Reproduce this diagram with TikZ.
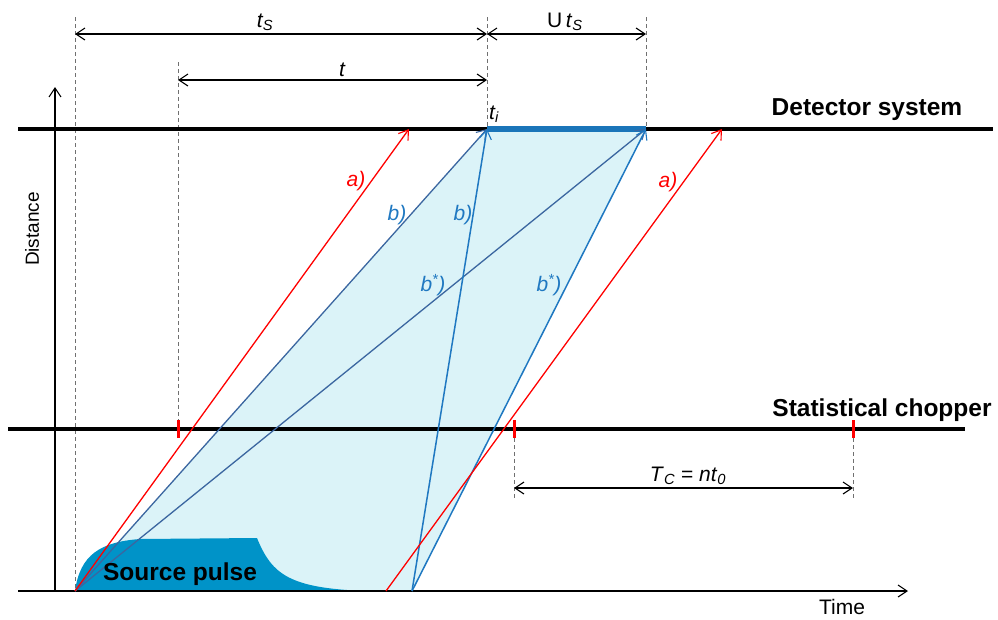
\documentclass[tikz,border=0pt]{standalone}
\usepackage{fontspec}
\setmainfont{Liberation Sans}
\usetikzlibrary{arrows.meta}
\definecolor{lightfill}{HTML}{DBF3F8}
\definecolor{pulseblue}{HTML}{0093C8}
\definecolor{darkline}{HTML}{3B66A0}
\definecolor{midline}{HTML}{1F78C1}
\definecolor{thickblue}{HTML}{1A75B9}
\definecolor{dashgray}{HTML}{707070}
\tikzset{
  tip/.tip={Straight Barb[length=9pt,width=12pt,line width=1.1pt]},
  guide/.style={draw=dashgray, line width=0.9pt, dash pattern=on 4pt off 3pt},
  dimarrow/.style={draw=black, line width=1.1pt, tip-tip},
  rail/.style={draw=black, line width=3.5pt},
  axisline/.style={draw=black, line width=1.3pt},
  redray/.style={draw=red, line width=1.3pt, -tip},
  darkray/.style={draw=darkline, line width=1.3pt, -tip},
  midray/.style={draw=midline, line width=1.5pt, -tip},
  redtick/.style={draw=red, line width=3pt},
  boldlabel/.style={font=\fontsize{24.5}{28}\selectfont\bfseries, inner sep=0pt},
  itlabel/.style={font=\fontsize{21}{24}\selectfont\itshape, inner sep=0pt},
  plainlabel/.style={font=\fontsize{21}{24}\selectfont, inner sep=0pt},
}
\begin{document}
\begin{tikzpicture}[x=1pt,y=-1pt]
\useasboundingbox (0,0) rectangle (998,619);
% key points
\coordinate (O) at (75,591);
\coordinate (O2) at (412,591);
\coordinate (Ti) at (487,129);
\coordinate (Te) at (646,129);
\coordinate (R1s) at (75,591);
\coordinate (R1e) at (409,129);
\coordinate (R2s) at (386,591);
\coordinate (R2e) at (722,129);
% light fill
\fill[lightfill] (O) -- (Ti) -- (Te) -- (O2) -- cycle;
% source pulse
\fill[pulseblue] (O) .. controls (80,555) and (100,542) .. (140,539) -- (257,538)
  .. controls (272,575) and (290,588) .. (365,591) -- cycle;
% guides
\coordinate (g1t) at (75,17);
\coordinate (g2t) at (178,62); \coordinate (g2b) at (178,420);
\coordinate (g3t) at (487,17);
\coordinate (g4t) at (646,17);
\coordinate (g5t) at (514,438); \coordinate (g5b) at (514,498);
\coordinate (g6t) at (853,438); \coordinate (g6b) at (853,498);
\draw[guide] (g1t) -- (O);
\draw[guide] (g2t) -- (g2b);
\draw[guide] (g3t) -- (Ti);
\draw[guide] (g4t) -- (Te);
\draw[guide] (g5t) -- (g5b);
\draw[guide] (g6t) -- (g6b);
% dimension arrows
\coordinate (d1a) at (75,34); \coordinate (d1b) at (487,34); \coordinate (d1c) at (646,34);
\coordinate (d2a) at (178,80); \coordinate (d2b) at (487,80);
\coordinate (d3a) at (514,488); \coordinate (d3b) at (853,488);
\draw[dimarrow] (d1a) -- (d1b);
\draw[dimarrow] (d1b) -- (d1c);
\draw[dimarrow] (d2a) -- (d2b);
\draw[dimarrow] (d3a) -- (d3b);
% axes
\coordinate (xa0) at (18,591); \coordinate (xa1) at (908,591);
\coordinate (ya0) at (55,591); \coordinate (ya1) at (55,87);
\draw[axisline, -tip] (xa0) -- (xa1);
\draw[axisline, -tip] (ya0) -- (ya1);
% rails
\coordinate (det0) at (18,129); \coordinate (det1) at (993,129);
\coordinate (ch0) at (8,429); \coordinate (ch1) at (965,429);
\draw[rail] (det0) -- (det1);
\draw[rail] (ch0) -- (ch1);
\draw[draw=thickblue, line width=6pt] (Ti) -- (Te);
% rays
\draw[darkray] (O) -- (Ti);
\draw[darkray] (O) -- (Te);
\draw[midray] (O2) -- (Ti);
\draw[midray] (O2) -- (Te);
\draw[redray] (R1s) -- (R1e);
\draw[redray] (R2s) -- (R2e);
% chopper ticks
\coordinate (k1a) at (178,420); \coordinate (k1b) at (178,438);
\coordinate (k2a) at (514,420); \coordinate (k2b) at (514,438);
\coordinate (k3a) at (853,420); \coordinate (k3b) at (853,438);
\draw[redtick] (k1a) -- (k1b);
\draw[redtick] (k2a) -- (k2b);
\draw[redtick] (k3a) -- (k3b);
% labels
\node[itlabel] (lts) at (265,22) {t\textsubscript{S}};
\node[plainlabel] (luts) at (565,22) {U\,\textit{t}\textsubscript{\textit{S}}};
\node[itlabel] (lt) at (342,70) {t};
\node[itlabel, anchor=west] (lti) at (489,114) {t\textsubscript{i}};
\node[plainlabel] (ltc) at (688,476) {\textit{T}\textsubscript{\textit{C}} = \textit{nt}\textsubscript{\textit{0}}};
\node[itlabel, text=red] (la1) at (356,181) {a)};
\node[itlabel, text=red] (la2) at (668,182) {a)};
\node[itlabel, text=midline] (lb1) at (397,215) {b)};
\node[itlabel, text=midline] (lb2) at (463,215) {b)};
\node[itlabel, text=midline] (lb3) at (433,285) {b\textsuperscript{*})};
\node[itlabel, text=midline] (lb4) at (549,285) {b\textsuperscript{*})};
\node[boldlabel] (ldet) at (867,110) {Detector system};
\node[boldlabel] (lch) at (882,410) {Statistical chopper};
\node[boldlabel] (lsp) at (180,574) {Source pulse};
\node[plainlabel] (ltime) at (842,607) {Time};
\node[plainlabel, rotate=90, font=\fontsize{19}{22}\selectfont] (ldist) at (32,229) {Distance};
\end{tikzpicture}
\end{document}
